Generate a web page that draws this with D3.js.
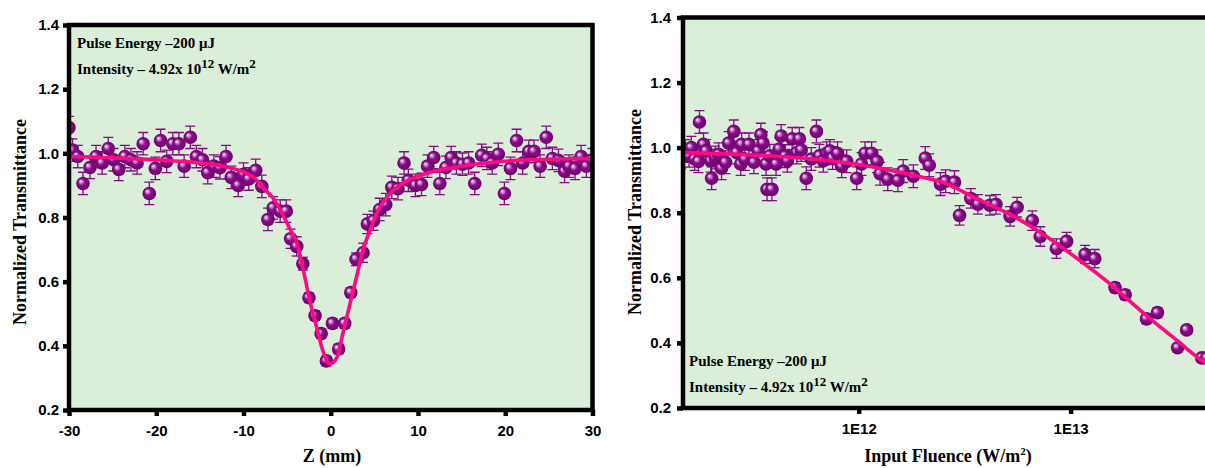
<!DOCTYPE html>
<html><head><meta charset="utf-8">
<script src="https://cdn.jsdelivr.net/npm/d3@7"></script>
<style>
body{margin:0;background:#fff;}
svg{display:block;}
.tick text{font-family:"Liberation Sans",Arial,sans-serif;font-weight:bold;font-size:15px;fill:#000;}
.ttl{font-family:"Liberation Serif","Times New Roman",serif;font-weight:bold;font-size:18px;fill:#000;}
.ann{font-family:"Liberation Serif","Times New Roman",serif;font-weight:bold;font-size:15px;fill:#000;}
</style></head>
<body>
<svg id="chart" width="1205" height="468"></svg>
<script>
// ---------- data ----------
const yTicks = [0.2, 0.4, 0.6, 0.8, 1.0, 1.2, 1.4];
const leftXTicks = [-30, -20, -10, 0, 10, 20, 30];
const rightXTicks = [1e12, 1e13];
const rightXTickLabels = ["1E12", "1E13"];

const leftZ = [-30.0,-29.6,-29.0,-28.4,-27.6,-26.9,-26.2,-25.5,-24.9,-24.3,-23.6,-22.9,-22.2,-21.5,-20.8,-20.1,-19.5,-18.8,-18.1,-17.4,-16.8,-16.1,-15.4,-14.7,-14.1,-13.4,-12.7,-12.0,-11.4,-10.6,-10.0,-9.4,-8.6,-7.9,-7.2,-6.6,-5.8,-5.1,-4.6,-3.9,-3.2,-2.5,-1.8,-1.1,-0.5,0.2,0.9,1.6,2.3,2.9,3.7,4.2,4.9,5.6,6.3,7.0,7.7,8.4,8.9,9.7,10.4,11.1,11.8,12.5,13.2,13.8,14.4,15.1,15.8,16.5,17.3,17.9,18.5,19.2,19.9,20.6,21.3,22.0,22.7,23.3,24.0,24.7,25.4,26.1,26.8,27.3,28.0,28.7,29.3,30.0];
const leftT = [1.08,1.01,0.99,0.906,0.956,0.99,0.97,1.015,0.98,0.95,0.99,0.98,0.97,1.03,0.875,0.953,1.04,0.975,1.03,1.03,0.96,1.05,0.99,0.98,0.94,0.96,0.955,0.99,0.925,0.90,0.935,0.92,0.947,0.897,0.794,0.83,0.82,0.82,0.734,0.71,0.656,0.55,0.494,0.438,0.353,0.47,0.39,0.47,0.566,0.67,0.69,0.78,0.79,0.825,0.84,0.894,0.89,0.97,0.916,0.90,0.903,0.96,0.987,0.906,0.956,0.987,0.97,0.966,0.97,0.906,0.994,0.984,0.97,0.997,0.875,0.953,1.04,0.97,1.006,1.006,0.96,1.05,0.984,0.978,0.944,0.96,0.953,0.99,0.96,0.98];
const leftErr = [0.035,0.035,0.035,0.035,0.035,0.035,0.035,0.035,0.035,0.035,0.035,0.035,0.035,0.035,0.035,0.035,0.035,0.035,0.035,0.035,0.035,0.035,0.035,0.035,0.035,0.035,0.035,0.035,0.035,0.035,0.035,0.035,0.035,0.035,0.035,0.035,0.035,0.035,0.03,0.03,0.02,0.015,0.015,0.015,0.015,0.015,0.015,0.015,0.015,0.02,0.03,0.03,0.03,0.035,0.035,0.035,0.035,0.035,0.035,0.035,0.035,0.035,0.035,0.035,0.035,0.035,0.035,0.035,0.035,0.035,0.035,0.035,0.035,0.035,0.035,0.035,0.035,0.035,0.035,0.035,0.035,0.035,0.035,0.035,0.035,0.035,0.035,0.035,0.035,0.035];

const leftFitZ = [-30,-25,-20,-15,-12,-10,-8.6,-7.8,-6.6,-4.7,-3.9,-3.2,-2.4,-1.6,-0.9,-0.1,0.7,1.4,2.2,3.0,3.7,4.5,5.6,6.8,8.2,10,12,15.1,21.3,30];
const leftFitT = [0.99,0.986,0.98,0.97,0.958,0.942,0.92,0.894,0.86,0.766,0.72,0.644,0.54,0.456,0.384,0.344,0.363,0.44,0.53,0.62,0.70,0.76,0.83,0.875,0.906,0.928,0.945,0.96,0.978,0.984];

const rightF = [1.45e11,1.52e11,1.58e11,1.62e11,1.68e11,1.75e11,1.77e11,1.85e11,1.9e11,2.0e11,2.02e11,2.1e11,2.18e11,2.25e11,2.35e11,2.43e11,2.57e11,2.65e11,2.77e11,2.80e11,2.9e11,3.03e11,3.2e11,3.35e11,3.45e11,3.53e11,3.65e11,3.69e11,3.8e11,3.89e11,4.07e11,4.21e11,4.30e11,4.49e11,4.6e11,4.85e11,5.1e11,5.24e11,5.35e11,5.65e11,5.97e11,6.31e11,6.52e11,6.8e11,7.05e11,7.3e11,7.52e11,7.94e11,8.30e11,8.77e11,9.78e11,1.03e12,1.07e12,1.15e12,1.22e12,1.26e12,1.37e12,1.53e12,1.62e12,1.81e12,2.06e12,2.15e12,2.43e12,2.57e12,2.83e12,2.99e12,3.38e12,3.65e12,4.16e12,4.44e12,5.18e12,5.59e12,6.59e12,7.19e12,8.57e12,9.57e12,1.17e13,1.30e13,1.62e13,1.81e13,2.28e13,2.57e13,3.20e13,3.53e13,4.16e13,4.39e13];
const rightT = [0.97,0.99,0.975,1.00,0.965,0.958,1.079,1.01,0.99,0.96,0.906,0.97,0.98,0.937,0.955,1.014,1.05,0.985,0.95,1.01,0.965,1.01,0.955,0.99,1.04,1.014,0.95,0.872,0.975,0.872,0.95,0.996,1.036,0.974,0.96,1.027,0.985,1.027,0.993,0.906,0.965,1.05,0.975,0.96,0.983,0.99,0.968,0.983,0.943,0.958,0.906,0.95,0.983,0.983,0.958,0.92,0.903,0.90,0.928,0.912,0.968,0.946,0.888,0.897,0.894,0.792,0.844,0.826,0.823,0.826,0.789,0.817,0.776,0.727,0.69,0.712,0.672,0.659,0.57,0.548,0.474,0.493,0.385,0.44,0.354,0.354];
const rightErr = [0.035,0.035,0.035,0.035,0.035,0.035,0.035,0.035,0.035,0.035,0.035,0.035,0.035,0.035,0.035,0.035,0.035,0.035,0.035,0.035,0.035,0.035,0.035,0.035,0.035,0.035,0.035,0.035,0.035,0.035,0.035,0.035,0.035,0.035,0.035,0.035,0.035,0.035,0.035,0.035,0.035,0.035,0.035,0.035,0.035,0.035,0.035,0.035,0.035,0.035,0.035,0.035,0.035,0.035,0.035,0.035,0.035,0.035,0.035,0.035,0.035,0.035,0.035,0.035,0.035,0.03,0.03,0.03,0.03,0.03,0.03,0.03,0.03,0.03,0.03,0.028,0.028,0.028,0.015,0.015,0.015,0.015,0.012,0.012,0.012,0.012];

const rightFitF = [1.4e11,6.04e11,1.26e12,1.81e12,2.62e12,3.57e12,5.18e12,7.44e12,1.07e13,1.55e13,2.22e13,3.20e13,4.23e13,4.7e13];
const rightFitT = [0.985,0.965,0.937,0.915,0.888,0.844,0.795,0.733,0.66,0.579,0.49,0.406,0.344,0.33];

// ---------- drawing ----------
const svg = d3.select("#chart");
const defs = svg.append("defs");
const grad = defs.append("radialGradient").attr("id","sphere")
  .attr("cx","50%").attr("cy","50%").attr("r","55%").attr("fx","32%").attr("fy","32%");
grad.append("stop").attr("offset","0%").attr("stop-color","#ffeeff");
grad.append("stop").attr("offset","16%").attr("stop-color","#d8a0d8");
grad.append("stop").attr("offset","45%").attr("stop-color","#8a0a8a");
grad.append("stop").attr("offset","100%").attr("stop-color","#680068");

const BG = "#daeeda", PURPLE = "#850a85", PINK = "#ff0a80";

function panel(o) {
  const g = svg.append("g");
  const [x0, x1] = o.x.range(), [y0, y1] = o.y.range();
  const clipId = "clip" + o.id;
  defs.append("clipPath").attr("id", clipId).append("rect")
    .attr("x", x0).attr("y", y1).attr("width", x1 - x0).attr("height", y0 - y1);
  g.append("rect").attr("x", x0).attr("y", y1).attr("width", x1 - x0).attr("height", y0 - y1).attr("fill", BG);

  const pts = o.xs.map((v, i) => ({x: v, t: o.ts[i], e: o.es[i]}));
  const dg = g.append("g").attr("clip-path", `url(#${clipId})`);
  const eb = dg.append("g").attr("stroke", PURPLE).attr("stroke-width", 1.3).attr("fill", "none");
  pts.forEach(p => {
    const cx = o.x(p.x), ya = o.y(p.t + p.e), yb = o.y(p.t - p.e);
    eb.append("line").attr("x1", cx).attr("x2", cx).attr("y1", ya).attr("y2", yb);
    eb.append("line").attr("x1", cx - 5).attr("x2", cx + 5).attr("y1", ya).attr("y2", ya);
    eb.append("line").attr("x1", cx - 5).attr("x2", cx + 5).attr("y1", yb).attr("y2", yb);
  });
  dg.append("g").selectAll("circle").data(pts).join("circle")
    .attr("cx", d => o.x(d.x)).attr("cy", d => o.y(d.t)).attr("r", 6.8)
    .attr("fill", "url(#sphere)");
  const fit = o.fx.map((v, i) => [v, o.ft[i]]);
  dg.append("path").datum(fit)
    .attr("d", d3.line().x(d => o.x(d[0])).y(d => o.y(d[1])).curve(d3.curveMonotoneX))
    .attr("fill", "none").attr("stroke", PINK).attr("stroke-width", 3.6).attr("stroke-linejoin","round");

  // frame
  g.append("rect").attr("x", x0).attr("y", y1).attr("width", x1 - x0).attr("height", y0 - y1)
    .attr("fill", "none").attr("stroke", "#000").attr("stroke-width", 4.5);

  const ya = g.append("g").attr("transform", `translate(${x0},0)`)
    .call(d3.axisLeft(o.y).tickValues(yTicks).tickFormat(d3.format(".1f")).tickSize(6).tickPadding(o.ypad));
  const xa = g.append("g").attr("transform", `translate(0,${y0})`)
    .call(d3.axisBottom(o.x).tickValues(o.xt).tickFormat((d, i) => o.xl[i]).tickSize(6).tickPadding(9));
  [ya, xa].forEach(a => {
    a.select(".domain").remove();
    a.selectAll(".tick line").attr("stroke", "#000").attr("stroke-width", 4.5);
  });

  g.append("text").attr("class", "ttl").attr("text-anchor", "middle")
    .attr("transform", `translate(${o.ytx},${o.ytc}) rotate(-90)`).text("Normalized Transmittance");
  const xt = g.append("text").attr("class", "ttl").attr("text-anchor", "middle")
    .attr("x", o.xtx).attr("y", 462);
  xt.append("tspan").text(o.xtitle[0]);
  if (o.xtitle.length > 1) {
    xt.append("tspan").attr("dy", -7).attr("font-size", 11).text(o.xtitle[1]);
    xt.append("tspan").attr("dy", 7).text(o.xtitle[2]);
  }

  const a1 = g.append("text").attr("class", "ann").attr("x", o.ax).attr("y", o.ay);
  a1.text("Pulse Energy \u2013200 \u03bcJ");
  const a2 = g.append("text").attr("class", "ann").attr("x", o.ax).attr("y", o.ay + 26);
  a2.append("tspan").text("Intensity \u2013 4.92x 10");
  a2.append("tspan").attr("dy", -6).attr("font-size", 13).text("12");
  a2.append("tspan").attr("dy", 6).text(" W/m");
  a2.append("tspan").attr("dy", -6).attr("font-size", 13).text("2");
}

panel({
  id: "L",
  x: d3.scaleLinear().domain([-30, 30]).range([69, 592.5]),
  y: d3.scaleLinear().domain([0.2, 1.4]).range([410, 25]),
  xs: leftZ, ts: leftT, es: leftErr, fx: leftFitZ, ft: leftFitT,
  xt: leftXTicks, xl: leftXTicks.map(String), ypad: 4,
  ytx: 26, ytc: 222, xtx: 332, xtitle: ["Z (mm)"],
  ax: 77, ay: 48
});

panel({
  id: "R",
  x: d3.scaleLog().domain([1.48e11, 4.7e13]).range([683, 1213]),
  y: d3.scaleLinear().domain([0.2, 1.4]).range([408, 17.5]),
  xs: rightF, ts: rightT, es: rightErr, fx: rightFitF, ft: rightFitT,
  xt: rightXTicks, xl: rightXTickLabels, ypad: 6,
  ytx: 641, ytc: 212, xtx: 948, xtitle: ["Input Fluence (W/m", "2", ")"],
  ax: 689, ay: 366
});
</script>
</body></html>
